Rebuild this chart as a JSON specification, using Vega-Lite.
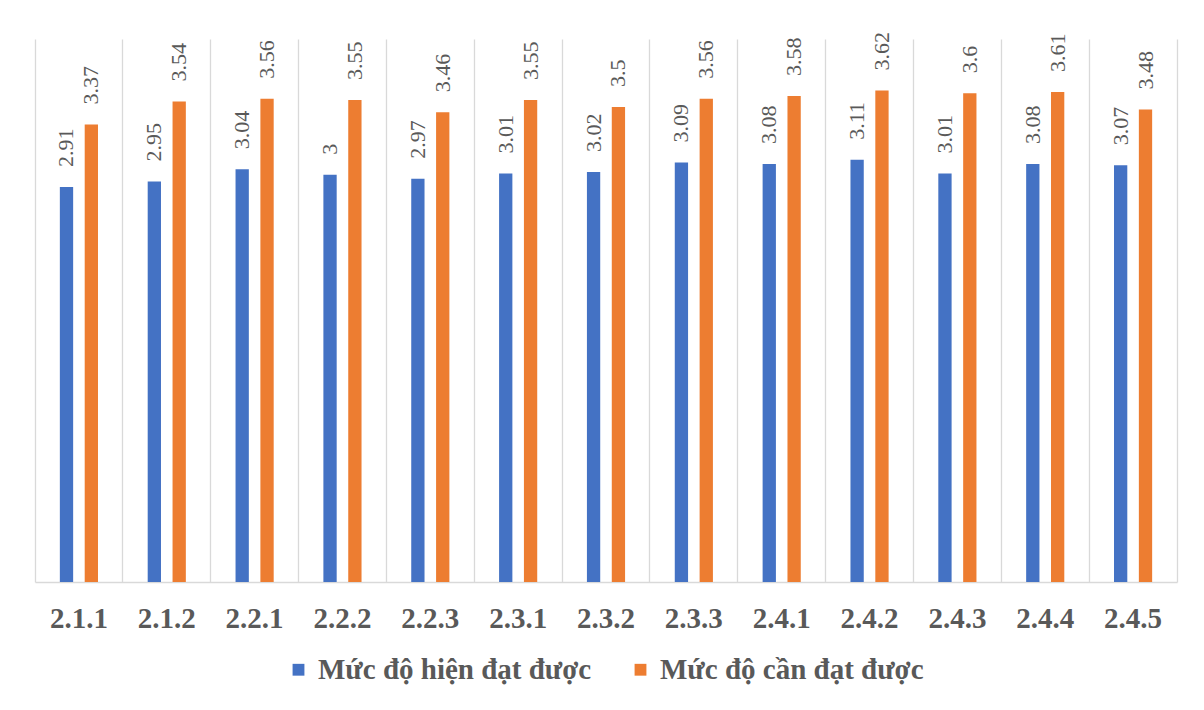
{
  "$schema": "https://vega.github.io/schema/vega-lite/v6.json",
  "width": 1142,
  "height": 543,
  "autosize": {"type": "none"},
  "padding": {"left": 35, "top": 39, "right": 27, "bottom": 128},
  "background": "white",
  "config": {"view": {"stroke": null}},
  "data": {
    "values": [
      {"code": "2.1.1", "series": "Mức độ hiện đạt được", "value": 2.91},
      {"code": "2.1.1", "series": "Mức độ cần đạt được", "value": 3.37},
      {"code": "2.1.2", "series": "Mức độ hiện đạt được", "value": 2.95},
      {"code": "2.1.2", "series": "Mức độ cần đạt được", "value": 3.54},
      {"code": "2.2.1", "series": "Mức độ hiện đạt được", "value": 3.04},
      {"code": "2.2.1", "series": "Mức độ cần đạt được", "value": 3.56},
      {"code": "2.2.2", "series": "Mức độ hiện đạt được", "value": 3},
      {"code": "2.2.2", "series": "Mức độ cần đạt được", "value": 3.55},
      {"code": "2.2.3", "series": "Mức độ hiện đạt được", "value": 2.97},
      {"code": "2.2.3", "series": "Mức độ cần đạt được", "value": 3.46},
      {"code": "2.3.1", "series": "Mức độ hiện đạt được", "value": 3.01},
      {"code": "2.3.1", "series": "Mức độ cần đạt được", "value": 3.55},
      {"code": "2.3.2", "series": "Mức độ hiện đạt được", "value": 3.02},
      {"code": "2.3.2", "series": "Mức độ cần đạt được", "value": 3.5},
      {"code": "2.3.3", "series": "Mức độ hiện đạt được", "value": 3.09},
      {"code": "2.3.3", "series": "Mức độ cần đạt được", "value": 3.56},
      {"code": "2.4.1", "series": "Mức độ hiện đạt được", "value": 3.08},
      {"code": "2.4.1", "series": "Mức độ cần đạt được", "value": 3.58},
      {"code": "2.4.2", "series": "Mức độ hiện đạt được", "value": 3.11},
      {"code": "2.4.2", "series": "Mức độ cần đạt được", "value": 3.62},
      {"code": "2.4.3", "series": "Mức độ hiện đạt được", "value": 3.01},
      {"code": "2.4.3", "series": "Mức độ cần đạt được", "value": 3.6},
      {"code": "2.4.4", "series": "Mức độ hiện đạt được", "value": 3.08},
      {"code": "2.4.4", "series": "Mức độ cần đạt được", "value": 3.61},
      {"code": "2.4.5", "series": "Mức độ hiện đạt được", "value": 3.07},
      {"code": "2.4.5", "series": "Mức độ cần đạt được", "value": 3.48}
    ]
  },
  "encoding": {
    "x": {
      "field": "code",
      "type": "nominal",
      "sort": null,
      "scale": {"paddingInner": 0, "paddingOuter": 0},
      "axis": {
        "title": null,
        "labelAngle": 0,
        "ticks": false,
        "grid": true,
        "bandPosition": 0,
        "gridColor": "#d9d9d9",
        "gridWidth": 1.3,
        "domainColor": "#d9d9d9",
        "domainWidth": 1.3,
        "labelFont": "Times New Roman, Liberation Serif, serif",
        "labelFontWeight": "bold",
        "labelFontSize": 29,
        "labelColor": "#595959",
        "labelPadding": 22
      }
    },
    "xOffset": {
      "field": "series",
      "type": "nominal",
      "sort": ["Mức độ hiện đạt được", "Mức độ cần đạt được"],
      "scale": {"paddingInner": 0.465, "paddingOuter": 1.14}
    },
    "y": {
      "field": "value",
      "type": "quantitative",
      "scale": {"domain": [0, 4], "nice": false},
      "axis": {
        "orient": "right",
        "title": null,
        "labels": false,
        "ticks": false,
        "grid": false,
        "domain": true,
        "domainColor": "#d9d9d9",
        "domainWidth": 1.3
      }
    }
  },
  "layer": [
    {
      "mark": {"type": "bar"},
      "encoding": {
        "color": {
          "field": "series",
          "type": "nominal",
          "scale": {
            "domain": ["Mức độ hiện đạt được", "Mức độ cần đạt được"],
            "range": ["#4472C4", "#ED7D31"]
          },
          "legend": {
            "title": null,
            "orient": "none",
            "direction": "horizontal",
            "legendX": 249,
            "legendY": 616,
            "symbolType": "square",
            "symbolSize": 140,
            "symbolStrokeWidth": 0,
            "labelFont": "Times New Roman, Liberation Serif, serif",
            "labelFontWeight": "bold",
            "labelFontSize": 29,
            "labelColor": "#595959",
            "labelOffset": 5,
            "columnPadding": 34,
            "labelLimit": 400
          }
        }
      }
    },
    {
      "mark": {
        "type": "text",
        "angle": -90,
        "align": "left",
        "baseline": "middle",
        "dx": 20,
        "font": "Times New Roman, Liberation Serif, serif",
        "fontSize": 22,
        "color": "#595959"
      },
      "encoding": {
        "text": {"field": "value", "type": "quantitative", "format": "~g"}
      }
    }
  ]
}
